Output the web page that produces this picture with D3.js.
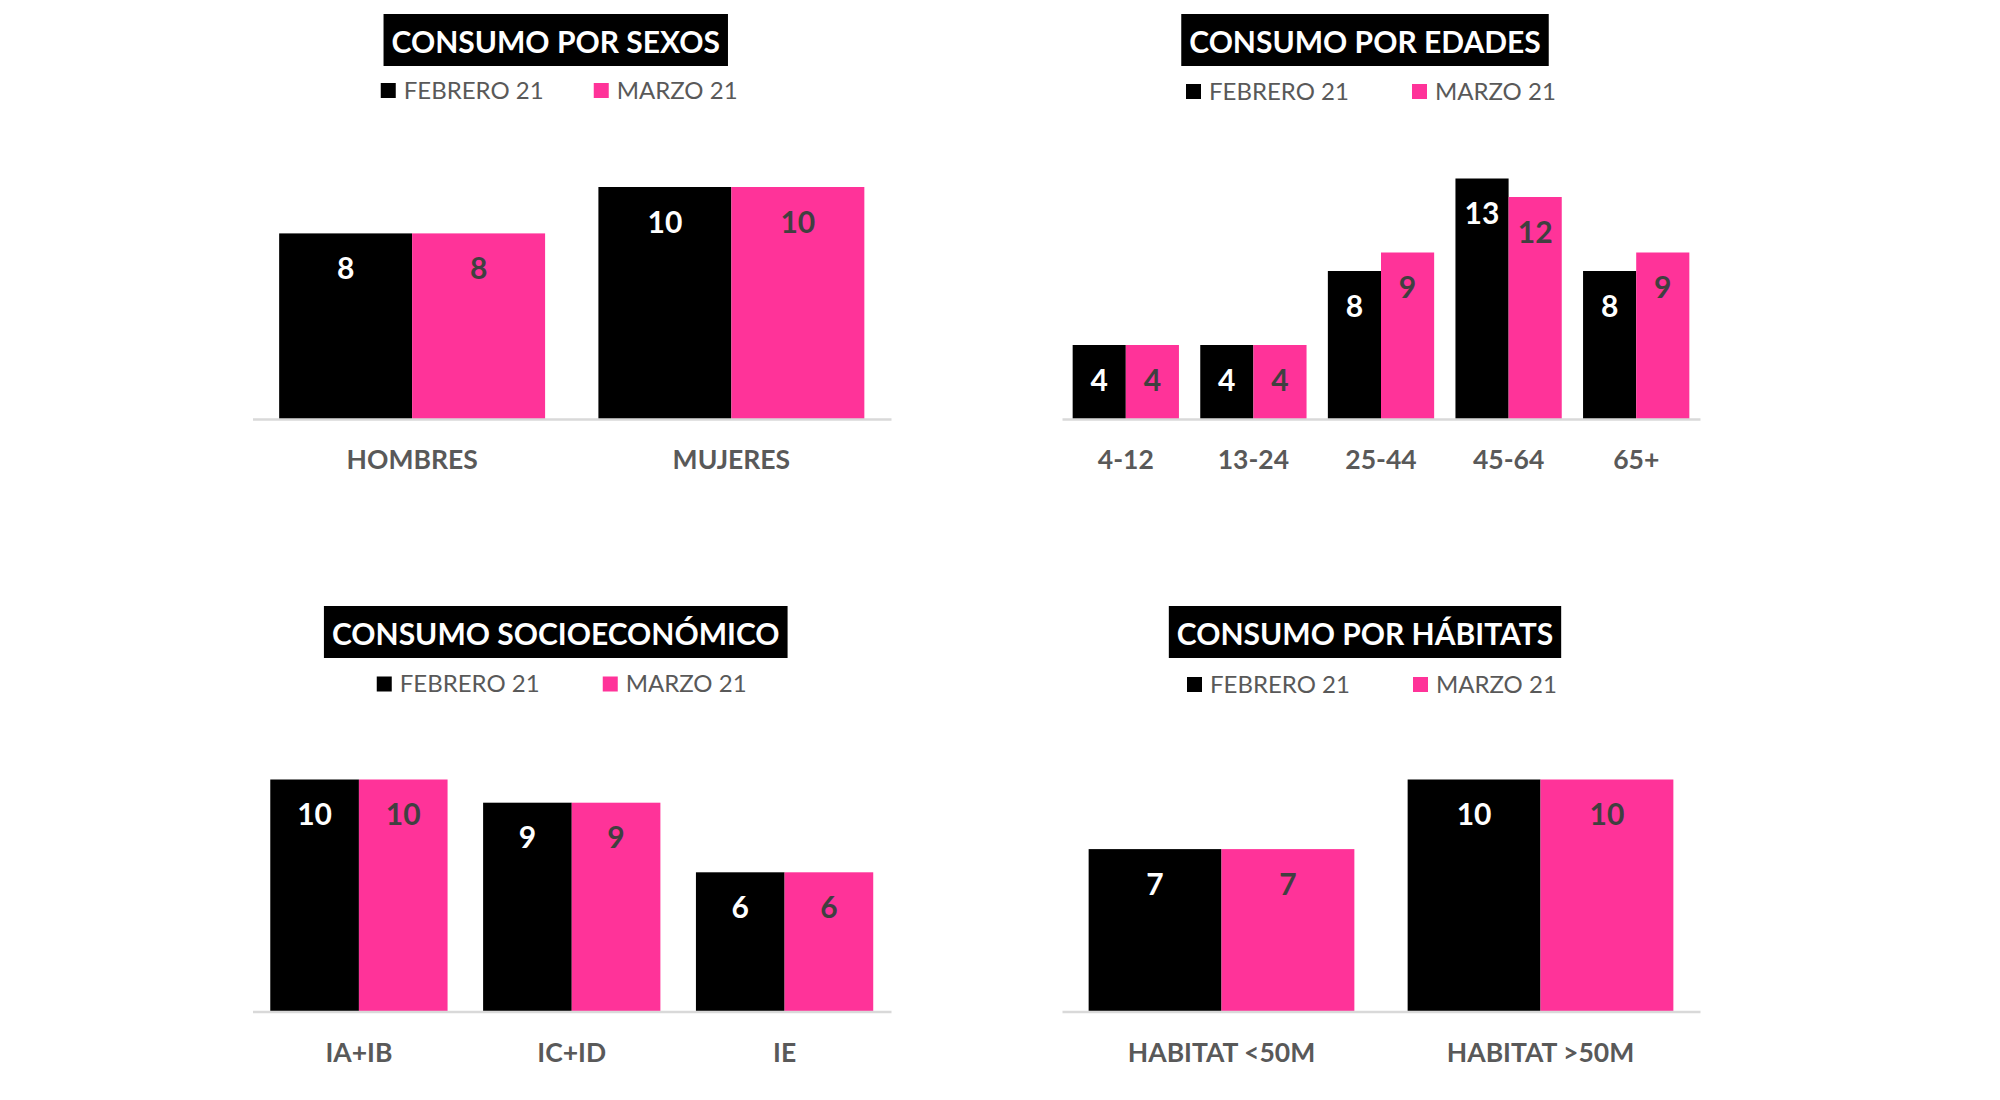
<!DOCTYPE html>
<html>
<head>
<meta charset="utf-8">
<script src="https://cdn.jsdelivr.net/npm/d3@7"></script>
<style>
  html, body { margin: 0; padding: 0; background: #ffffff; }
  svg { display: block; }
</style>
</head>
<body>
<svg id="chart" width="2000" height="1100"></svg>
<script>
// ---------------- DATA ----------------
const seriesNames = ["FEBRERO 21", "MARZO 21"];

const sexTitle = "CONSUMO POR SEXOS";
const sexCategories = ["HOMBRES", "MUJERES"];
const sexFeb = [8, 10];
const sexMar = [8, 10];

const ageTitle = "CONSUMO POR EDADES";
const ageCategories = ["4-12", "13-24", "25-44", "45-64", "65+"];
const ageFeb = [4, 4, 8, 13, 8];
const ageMar = [4, 4, 9, 12, 9];

const seTitle = "CONSUMO SOCIOECONÓMICO";
const seCategories = ["IA+IB", "IC+ID", "IE"];
const seFeb = [10, 9, 6];
const seMar = [10, 9, 6];

const habTitle = "CONSUMO POR HÁBITATS";
const habCategories = ["HABITAT <50M", "HABITAT >50M"];
const habFeb = [7, 10];
const habMar = [7, 10];

// ---------------- STYLE / LAYOUT ----------------
const colors = ["#000000", "#FF3399"];
const labelColors = ["#ffffff", "#404040"];
const FONT = "Lato, 'Open Sans', sans-serif";

const panels = [
  { title: sexTitle, cats: sexCategories, series: [sexFeb, sexMar],
    x0: 252.5, x1: 891, axisY: 419, yMax: 12, ppu: 23.2,
    boxTop: 14, legendBase: 98.5, legendOff: [-175, 38] },
  { title: ageTitle, cats: ageCategories, series: [ageFeb, ageMar],
    x0: 1062, x1: 1700, axisY: 419, yMax: 14, ppu: 18.5,
    boxTop: 14, legendBase: 99.5, legendOff: [-179, 47] },
  { title: seTitle, cats: seCategories, series: [seFeb, seMar],
    x0: 252.5, x1: 891, axisY: 1011.5, yMax: 12, ppu: 23.2,
    boxTop: 606, legendBase: 692, legendOff: [-179, 47] },
  { title: habTitle, cats: habCategories, series: [habFeb, habMar],
    x0: 1062, x1: 1700, axisY: 1011.5, yMax: 12, ppu: 23.2,
    boxTop: 606, legendBase: 692.5, legendOff: [-178, 48] }
];

const svg = d3.select("#chart");
svg.append("rect").attr("width", 2000).attr("height", 1100).attr("fill", "#ffffff");

panels.forEach(p => {
  const g = svg.append("g");

  const x = d3.scaleBand()
    .domain(p.cats)
    .range([p.x0, p.x1])
    .paddingInner(0.167)
    .paddingOuter(0.0835);

  const xs = d3.scaleBand()
    .domain(d3.range(p.series.length))
    .range([0, x.bandwidth()]);

  const y = d3.scaleLinear()
    .domain([0, p.yMax])
    .range([p.axisY, p.axisY - p.yMax * p.ppu]);

  // bars
  p.series.forEach((vals, si) => {
    g.selectAll(null)
      .data(vals)
      .enter()
      .append("rect")
      .attr("x", (d, i) => x(p.cats[i]) + xs(si))
      .attr("y", d => y(d))
      .attr("width", xs.bandwidth())
      .attr("height", d => y(0) - y(d))
      .attr("fill", colors[si]);

    g.selectAll(null)
      .data(vals)
      .enter()
      .append("text")
      .attr("x", (d, i) => x(p.cats[i]) + xs(si) + xs.bandwidth() / 2)
      .attr("y", d => y(d) + 45.5)
      .attr("text-anchor", "middle")
      .attr("font-family", FONT)
      .attr("font-weight", "bold")
      .attr("font-size", 30)
      .attr("fill", labelColors[si])
      .text(d => d);
  });

  // category axis
  const axis = d3.axisBottom(x).tickSizeInner(0).tickSizeOuter(0).tickPadding(0);
  const ax = g.append("g")
    .attr("transform", `translate(0,${p.axisY})`)
    .call(axis);
  ax.select(".domain")
    .attr("stroke", "#d9d9d9")
    .attr("stroke-width", 2.5);
  ax.selectAll(".tick text")
    .attr("y", 50)
    .attr("dy", 0)
    .attr("font-family", FONT)
    .attr("font-weight", "bold")
    .attr("font-size", 26.5)
    .attr("fill", "#595959");

  // title box
  const cx = (p.x0 + p.x1) / 2 - 16;
  const tg = g.append("g");
  const box = tg.append("rect")
    .attr("y", p.boxTop)
    .attr("height", 52)
    .attr("fill", "#000000");
  const tt = tg.append("text")
    .attr("x", cx)
    .attr("y", p.boxTop + 38.5)
    .attr("text-anchor", "middle")
    .attr("font-family", FONT)
    .attr("font-weight", "bold")
    .attr("font-size", 30)
    .attr("fill", "#ffffff")
    .text(p.title);
  const tw = tt.node().getComputedTextLength();
  box.attr("x", cx - tw / 2 - 8).attr("width", tw + 16);

  // legend
  seriesNames.forEach((name, si) => {
    const lx = cx + p.legendOff[si];
    g.append("rect")
      .attr("x", lx)
      .attr("y", p.legendBase - 15.5)
      .attr("width", 15)
      .attr("height", 15)
      .attr("fill", colors[si]);
    g.append("text")
      .attr("x", lx + 23)
      .attr("y", p.legendBase)
      .attr("font-family", FONT)
      .attr("font-size", 24)
      .attr("fill", "#595959")
      .text(name);
  });
});
</script>
</body>
</html>
